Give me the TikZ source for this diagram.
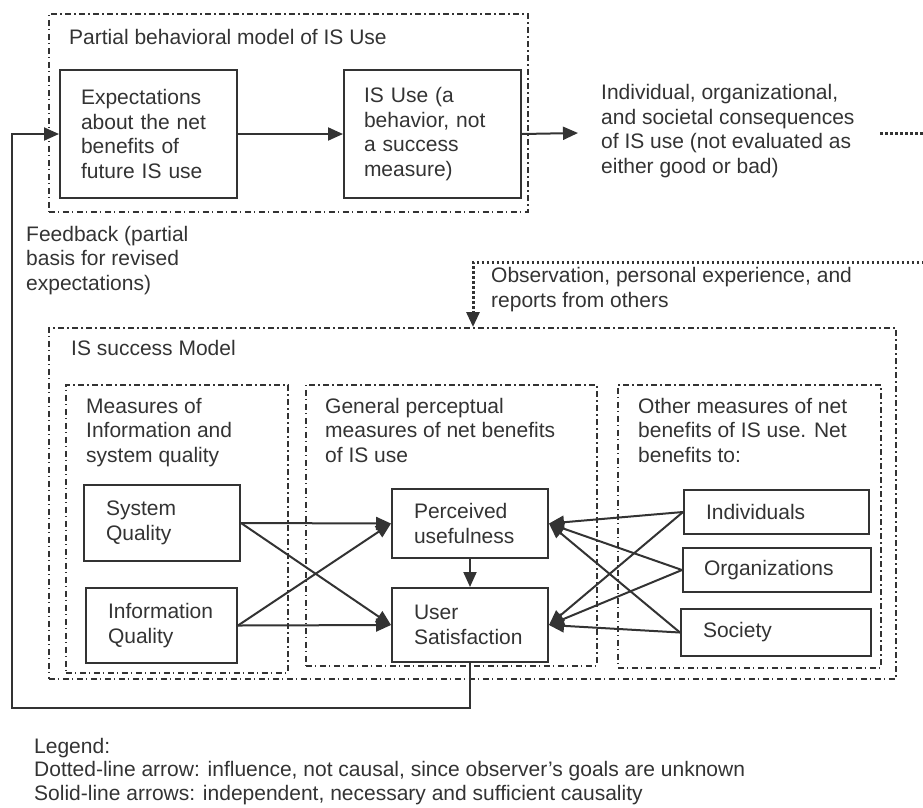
\documentclass[tikz,border=0pt]{standalone}
\usepackage{fontspec}
\setmainfont{Liberation Sans}
\usetikzlibrary{arrows.meta}
\definecolor{ink}{HTML}{333333}
\begin{document}
\begin{tikzpicture}[x=1pt,y=-1pt,
  txt/.style={font=\fontsize{21}{24.4}\selectfont,text=ink,inner sep=0pt,align=left,anchor=base west},
  grp/.style={draw=ink,line width=1.5pt,dash pattern=on 6pt off 3pt on 1.5pt off 3.5pt,
    anchor=north west,inner sep=0pt},
  boxn/.style={draw=ink,line width=2pt,anchor=north west,align=left,text=ink,
    font=\fontsize{21}{24.4}\selectfont,inner ysep=0pt},
  arr/.style={draw=ink,line width=2pt,-{Triangle[length=15pt,width=13pt]}},
  dotarr/.style={draw=ink,line width=3pt,dash pattern=on 2.5pt off 2.5pt,
    -{Triangle[length=15pt,width=13pt]}}]
\useasboundingbox (0,0) rectangle (923,807);

% group frames (dash-dot)
\node[grp,minimum width=479,minimum height=198] (topgrp) at (48,13) {};
\node[grp,minimum width=847,minimum height=351] (isbox) at (48,327) {};
\node[grp,minimum width=222,minimum height=288] (g1) at (65,384) {};
\node[grp,minimum width=291,minimum height=281] (g2) at (305,384) {};
\node[grp,minimum width=263,minimum height=283] (g3) at (617,384) {};

% group captions (multi-line texts are placed by the baseline of their last line)
\node[txt] (ttop) at (69,44) {Partial behavioral model of IS Use};
\node[txt] (tis) at (71,355) {IS success Model};
\node[txt] (t1) at (86,462) {Measures of\\Information and\\system quality};
\node[txt] (t2) at (325,462) {General perceptual\\measures of net benefits\\of IS use};
\node[txt] (t3) at (638,462) {Other measures of net\\benefits of IS use. Net\\benefits to:};

% behavioural model boxes
\node[boxn,minimum width=177,minimum height=128,inner xsep=21,text width=135] (exp) at (59,69)
  {Expectations\\about the net\\benefits of\\future IS use};
\node[boxn,minimum width=177,minimum height=128,inner xsep=20,text width=137] (isu) at (343,69)
  {IS Use (a\\behavior, not\\a success\\measure)};
\node[txt] (cons) at (601,173) {Individual, organizational,\\and societal consequences\\of IS use (not evaluated as\\either good or bad)};
\coordinate (consin) at (578,133);

% success model boxes
\node[boxn,minimum width=156,minimum height=76,inner xsep=22,text width=112] (sq) at (83,484) {System\\Quality};
\node[boxn,minimum width=151,minimum height=75,inner xsep=22,text width=107] (iq) at (85,587) {Information\\Quality};
\node[boxn,minimum width=156,minimum height=69,inner xsep=22,text width=112] (pu) at (391,488) {Perceived\\usefulness};
\node[boxn,minimum width=156,minimum height=74,inner xsep=22,text width=112] (us) at (391,587) {User\\Satisfaction};
\node[boxn,minimum width=185,minimum height=44,inner xsep=22,text width=141] (ind) at (683,489) {Individuals};
\node[boxn,minimum width=188,minimum height=44,inner xsep=21,text width=146] (org) at (682,547) {Organizations};
\node[boxn,minimum width=190,minimum height=47,inner xsep=22,text width=146] (soc) at (680,608) {Society};

% feedback and observation texts
\node[txt] (tfb) at (26,290) {Feedback (partial\\basis for revised\\expectations)};
\node[txt] (tobs) at (491,307) {Observation, personal experience, and\\reports from others};

% solid causal arrows
\draw[arr] (exp.east) -- (isu.west);
\draw[arr] (isu.east) -- (consin);
\draw[arr] (sq.east) -- (pu.west);
\draw[arr] (sq.east) -- (us.west);
\draw[arr] (iq.east) -- (pu.west);
\draw[arr] (iq.east) -- (us.west);
\draw[arr] (pu.south) -- (us.north);
\draw[arr] (ind.west) -- (pu.east);
\draw[arr] (ind.west) -- (us.east);
\draw[arr] (org.west) -- (pu.east);
\draw[arr] (org.west) -- (us.east);
\draw[arr] (soc.west) -- (pu.east);
\draw[arr] (soc.west) -- (us.east);

% feedback loop
\coordinate (fbA) at (12,708);
\draw[arr] (us.south) |- (fbA) |- (exp.west);

% dotted influence path (runs past the right edge)
\coordinate (dA) at (880,133);
\coordinate (dB) at (945,133);
\coordinate (dD) at (473,262);
\begin{scope}
\clip (0,0) rectangle (923,807);
\draw[dotarr] (dA) -- (dB) |- (dD) -- (dD |- isbox.north);
\end{scope}

% legend
\node[txt,font=\fontsize{21}{23.5}\selectfont] (legend) at (34,800)
  {Legend:\\Dotted-line arrow: influence, not causal, since observer’s goals are unknown\\Solid-line arrows: independent, necessary and sufficient causality};
\end{tikzpicture}
\end{document}
